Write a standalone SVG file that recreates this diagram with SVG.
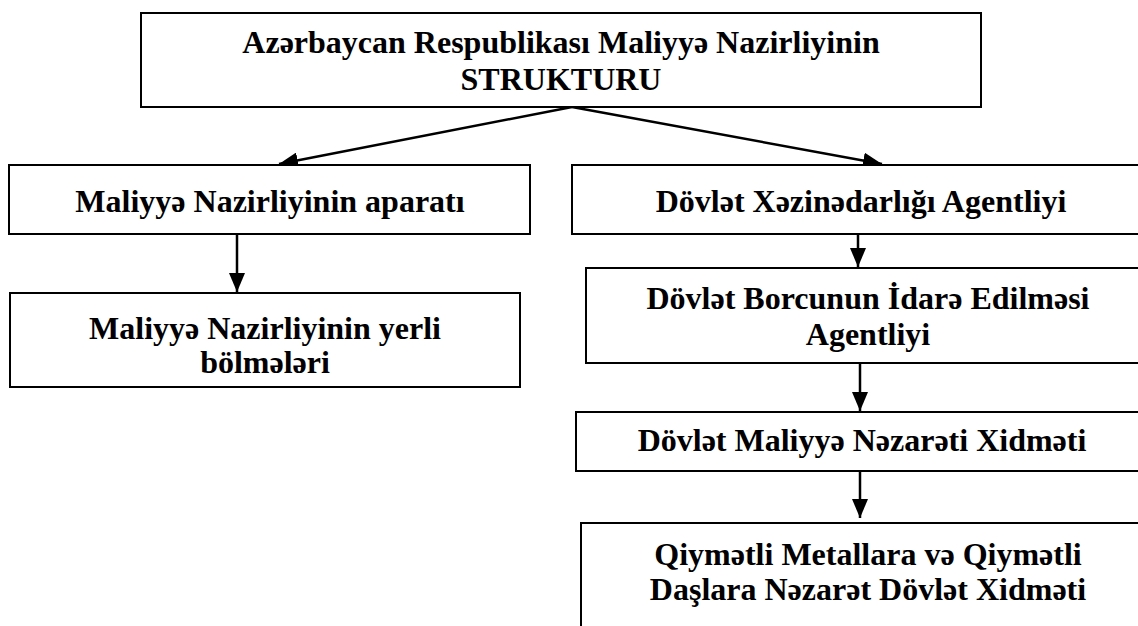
<svg xmlns="http://www.w3.org/2000/svg" width="1138" height="626" viewBox="0 0 1138 626">
<style>
.box{fill:#fff;stroke:#000;stroke-width:2}
.t{font-family:"Liberation Serif","Times New Roman",serif;font-weight:bold;font-size:32px;fill:#000;text-anchor:middle}
.c{stroke:#000;stroke-width:2.5;fill:none;marker-end:url(#ah)}
</style>
<defs>
<marker id="ah" markerUnits="userSpaceOnUse" markerWidth="19" markerHeight="16" refX="19" refY="8" orient="auto">
<path d="M0,0 L19,8 L0,16 z" fill="#000"/>
</marker>
</defs>
<rect width="1138" height="626" fill="#fff"/>
<g id="connectors">
<path class="c" d="M572,107 L279,164"/>
<path class="c" d="M572,107 L882,164"/>
<path class="c" d="M237,230 L237,292"/>
<path class="c" d="M858,230 L858,267"/>
<path class="c" d="M860,363 L860,411"/>
<path class="c" d="M860,471 L860,518"/>
</g>
<g id="n-top">
<rect class="box" x="141" y="13" width="840" height="94"/>
<text class="t" x="561" y="53">Azərbaycan Respublikası Maliyyə Nazirliyinin</text>
<text class="t" x="561" y="90">STRUKTURU</text>
</g>
<g id="n-aparat">
<rect class="box" x="9" y="165" width="521" height="69"/>
<text class="t" x="270" y="212">Maliyyə Nazirliyinin aparatı</text>
</g>
<g id="n-yerli">
<rect class="box" x="10" y="293" width="510" height="94"/>
<text class="t" x="265" y="339">Maliyyə Nazirliyinin yerli</text>
<text class="t" x="265" y="373">bölmələri</text>
</g>
<g id="n-xezine">
<rect class="box" x="572" y="165" width="580" height="69"/>
<text class="t" x="861" y="212">Dövlət Xəzinədarlığı Agentliyi</text>
</g>
<g id="n-borc">
<rect class="box" x="586" y="268" width="566" height="95"/>
<text class="t" x="868" y="309">Dövlət Borcunun İdarə Edilməsi</text>
<text class="t" x="868" y="345">Agentliyi</text>
</g>
<g id="n-nezaret">
<rect class="box" x="576" y="412" width="576" height="59"/>
<text class="t" x="862" y="451">Dövlət Maliyyə Nəzarəti Xidməti</text>
</g>
<g id="n-metal">
<rect class="box" x="581" y="523" width="571" height="120"/>
<text class="t" x="868" y="565">Qiymətli Metallara və Qiymətli</text>
<text class="t" x="868" y="600">Daşlara Nəzarət Dövlət Xidməti</text>
</g>
</svg>
